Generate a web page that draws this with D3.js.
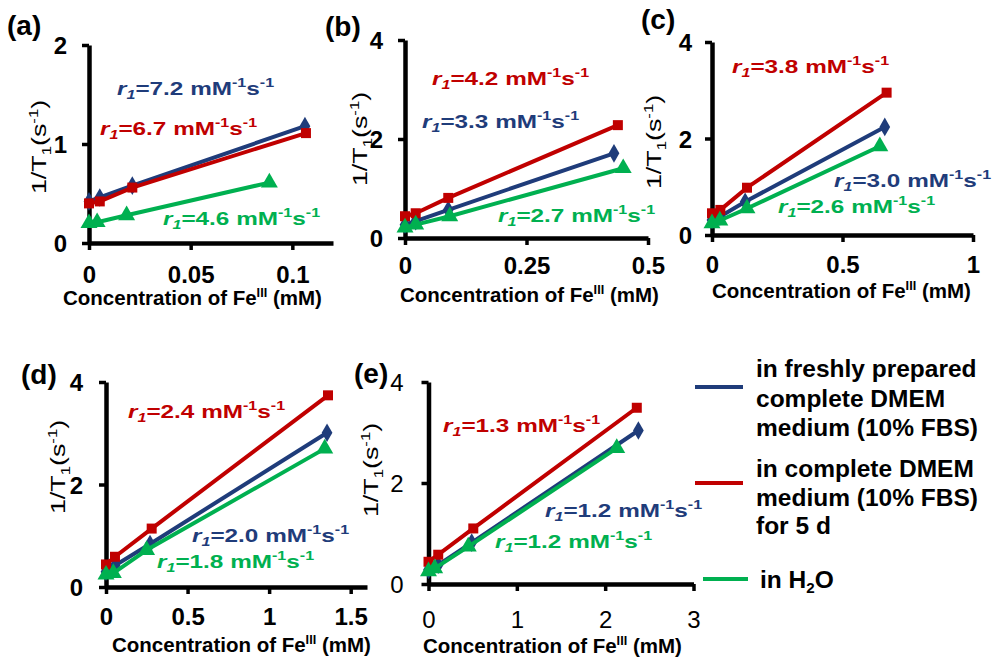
<!DOCTYPE html>
<html><head><meta charset="utf-8">
<script src="https://cdn.jsdelivr.net/npm/d3@7"></script>
<style>body{margin:0;background:#fff}svg{display:block}</style>
</head><body><svg id="c" width="998" height="659"></svg>
<script>
// ---------- DATA ----------
// panel (a)
const aBlueX=[0,0.0053,0.0213,0.1062], aBlueY=[0.42,0.46,0.58,1.18];
const aRedX=[0,0.0053,0.0213,0.1067],  aRedY=[0.40,0.42,0.56,1.11];
const aGreenX=[0,0.0040,0.0185,0.0887], aGreenY=[0.20,0.21,0.28,0.61];
// panel (b)
const bBlueX=[0,0.022,0.089,0.430], bBlueY=[0.27,0.34,0.57,1.71];
const bRedX=[0,0.022,0.089,0.438],  bRedY=[0.44,0.50,0.81,2.28];
const bGreenX=[0,0.022,0.092,0.449], bGreenY=[0.21,0.27,0.44,1.41];
// panel (c)
const cBlueX=[0,0.030,0.127,0.662], cBlueY=[0.31,0.38,0.69,2.24];
const cRedX=[0,0.032,0.134,0.669],  cRedY=[0.45,0.52,0.98,2.95];
const cGreenX=[0,0.030,0.134,0.643], cGreenY=[0.24,0.30,0.55,1.84];
// panel (d)
const dBlueX=[0,0.055,0.270,1.355], dBlueY=[0.30,0.42,0.84,3.01];
const dRedX=[0,0.055,0.280,1.361],  dRedY=[0.44,0.59,1.14,3.74];
const dGreenX=[0,0.045,0.249,1.341], dGreenY=[0.24,0.27,0.72,2.70];
// panel (e)
const eBlueX=[0,0.110,0.489,2.376], eBlueY=[0.28,0.38,0.82,3.04];
const eRedX=[0,0.110,0.507,2.358],  eRedY=[0.44,0.58,1.10,3.49];
const eGreenX=[0,0.070,0.450,2.131], eGreenY=[0.25,0.31,0.74,2.69];
// tick values
const aXTicks=[0,0.05,0.1], aYTicks=[0,1,2];
const bXTicks=[0,0.25,0.5], bYTicks=[0,2,4];
const cXTicks=[0,0.5,1],    cYTicks=[0,2,4];
const dXTicks=[0,0.5,1,1.5], dYTicks=[0,2,4];
const eXTicks=[0,1,2,3],    eYTicks=[0,2,4];
// relaxivity labels (blue, red, green)
const aR1=["7.2","6.7","4.6"];
const bR1=["3.3","4.2","2.7"];
const cR1=["3.0","3.8","2.6"];
const dR1=["2.0","2.4","1.8"];
const eR1=["1.2","1.3","1.2"];
const panelLabels=["(a)","(b)","(c)","(d)","(e)"];
const legendBlue=["in freshly prepared","complete DMEM","medium (10% FBS)"];
const legendRed=["in complete DMEM","medium (10% FBS)","for 5 d"];

// ---------- STYLE ----------
const FONT="'Liberation Sans', Arial, Helvetica, sans-serif";
const COL={blue:"#1f3c7a", red:"#c00000", green:"#00b050"};
const MARK={blue:d3.symbolDiamond, red:d3.symbolSquare, green:d3.symbolTriangle};
const MSIZE={blue:100, red:100, green:125};

const svg=d3.select("#c");

function rich(sel,x,y,parts,o){
  const sx=o.sx||1, ss=o.ss||0.62;
  const t=sel.append("text").attr("x",0).attr("y",0)
    .attr("font-family",FONT).attr("font-size",o.size)
    .attr("font-weight",o.weight||"bold").attr("fill",o.color||"#000");
  if(o.anchor) t.attr("text-anchor",o.anchor);
  t.attr("transform",`translate(${x},${y})`+(o.rotate?" rotate(-90)":"")+` scale(${sx},1)`);
  let shift=0;
  parts.forEach(p=>{
    const s=t.append("tspan").text(p.t);
    const target=p.sup?-0.4*o.size:p.sub?0.22*o.size:0;
    if(target-shift!==0) s.attr("dy",target-shift);
    shift=target;
    if(p.sup||p.sub) s.attr("font-size",o.size*ss);
    if(p.it) s.attr("font-style","italic");
  });
  return t;
}

const panels=[
 {lab:0, ox:89, oy:243, w:244, h:198, xd:[0,0.12], yd:[0,2], xt:aXTicks, yt:aYTicks, bold:true,
  data:{blue:[aBlueX,aBlueY],red:[aRedX,aRedY],green:[aGreenX,aGreenY]}, r1:aR1,
  rpos:{blue:[117,95],red:[100,135],green:[163,225]}, lpos:[7,35], yti:[46,147], xti:[63,305], xlo:40, ylo:22},
 {lab:1, ox:405, oy:238, w:243, h:198, xd:[0,0.5], yd:[0,4], xt:bXTicks, yt:bYTicks, bold:true,
  data:{blue:[bBlueX,bBlueY],red:[bRedX,bRedY],green:[bGreenX,bGreenY]}, r1:bR1,
  rpos:{blue:[422,128],red:[432,85],green:[498,222]}, lpos:[325,36], yti:[367,139], xti:[400,302], xlo:36, ylo:22},
 {lab:2, ox:712, oy:235, w:261, h:193, xd:[0,1], yd:[0,4], xt:cXTicks, yt:cYTicks, bold:true,
  data:{blue:[cBlueX,cBlueY],red:[cRedX,cRedY],green:[cGreenX,cGreenY]}, r1:cR1,
  rpos:{blue:[834,187],red:[732,73],green:[778,213]}, lpos:[641,29], yti:[661,142], xti:[712,298], xlo:38, ylo:20},
 {lab:3, ox:106, oy:587, w:261, h:205, xd:[0,1.6], yd:[0,4], xt:dXTicks, yt:dYTicks, bold:true,
  data:{blue:[dBlueX,dBlueY],red:[dRedX,dRedY],green:[dGreenX,dGreenY]}, r1:dR1,
  rpos:{blue:[192,542],red:[128,418],green:[157,568]}, lpos:[21,384], yti:[65,467], xti:[112,652], xlo:38, ylo:23},
 {lab:4, ox:428.5, oy:584, w:265, h:202, xd:[0,3], yd:[0,4], xt:eXTicks, yt:eYTicks, bold:false,
  data:{blue:[eBlueX,eBlueY],red:[eRedX,eRedY],green:[eGreenX,eGreenY]}, r1:eR1,
  rpos:{blue:[545,517],red:[443,432],green:[495,548]}, lpos:[354,383], yti:[378,470], xti:[423,653], xlo:44, ylo:25}
];

const order=["blue","red","green"];
const rIdx={blue:0,red:1,green:2};

panels.forEach(p=>{
  const g=svg.append("g");
  const x=d3.scaleLinear().domain(p.xd).range([p.ox,p.ox+p.w]);
  const y=d3.scaleLinear().domain(p.yd).range([p.oy,p.oy-p.h]);
  const tw=p.bold?"bold":"normal";
  const xa=g.append("g").attr("transform",`translate(0,${p.oy})`)
    .call(d3.axisBottom(x).tickValues(p.xt).tickFormat(d=>String(d)).tickSize(7).tickSizeOuter(0));
  const ya=g.append("g").attr("transform",`translate(${p.ox},0)`)
    .call(d3.axisLeft(y).tickValues(p.yt).tickFormat(d=>String(d)).tickSize(7).tickSizeOuter(0));
  [xa,ya].forEach(a=>{
    a.select(".domain").attr("stroke","#000").attr("stroke-width",4.5);
    a.selectAll(".tick line").attr("stroke","#000").attr("stroke-width",3.5);
    a.selectAll(".tick text").attr("font-family",FONT).attr("font-size",24)
      .attr("font-weight",tw).attr("fill","#000");
  });
  xa.selectAll(".tick text").attr("y",p.xlo).attr("dy",0);
  ya.selectAll(".tick text").attr("x",-p.ylo).attr("dy","0.36em");
  order.forEach(k=>{
    const [xs,ys]=p.data[k];
    const pts=xs.map((v,i)=>[x(v),y(ys[i])]);
    g.append("path").attr("d",d3.line()(pts)).attr("fill","none")
      .attr("stroke",COL[k]).attr("stroke-width",4).attr("stroke-linejoin","round");
    g.selectAll(null).data(pts).enter().append("path")
      .attr("d",d3.symbol().type(MARK[k]).size(MSIZE[k]))
      .attr("transform",d=>`translate(${d[0]},${d[1]})`)
      .attr("fill",COL[k]);
  });
  order.forEach(k=>{
    const [lx,ly]=p.rpos[k];
    rich(g,lx,ly,[{t:"r",it:true},{t:"1",sub:true,it:true},{t:"="+p.r1[rIdx[k]]+" mM"},{t:"-1",sup:true},{t:"s"},{t:"-1",sup:true}],
      {size:19,color:COL[k],sx:1.28,ss:0.66});
  });
  g.append("text").attr("x",p.lpos[0]).attr("y",p.lpos[1]).text(panelLabels[p.lab])
    .attr("font-family",FONT).attr("font-size",28).attr("font-weight","bold");
  rich(g,p.yti[0],p.yti[1],[{t:"1/T"},{t:"1",sub:true},{t:"(s"},{t:"-1",sup:true},{t:")"}],
    {size:21,weight:"normal",anchor:"middle",rotate:true,sx:1.28});
  rich(g,p.xti[0],p.xti[1],[{t:"Concentration of Fe"},{t:"III",sup:true},{t:" (mM)"}],{size:20.5});
});

// ---------- LEGEND ----------
const lg=svg.append("g");
lg.append("line").attr("x1",695).attr("x2",743).attr("y1",387).attr("y2",387).attr("stroke",COL.blue).attr("stroke-width",4);
lg.append("line").attr("x1",695).attr("x2",743).attr("y1",483).attr("y2",483).attr("stroke",COL.red).attr("stroke-width",4);
lg.append("line").attr("x1",703).attr("x2",748).attr("y1",579).attr("y2",579).attr("stroke",COL.green).attr("stroke-width",4);
legendBlue.forEach((s,i)=>lg.append("text").attr("x",756).attr("y",377+i*29.5).text(s)
  .attr("font-family",FONT).attr("font-size",24.5).attr("font-weight","bold"));
legendRed.forEach((s,i)=>lg.append("text").attr("x",756).attr("y",477+i*28.5).text(s)
  .attr("font-family",FONT).attr("font-size",24.5).attr("font-weight","bold"));
rich(lg,760,588,[{t:"in H"},{t:"2",sub:true},{t:"O"}],{size:24.5});
</script></body></html>
